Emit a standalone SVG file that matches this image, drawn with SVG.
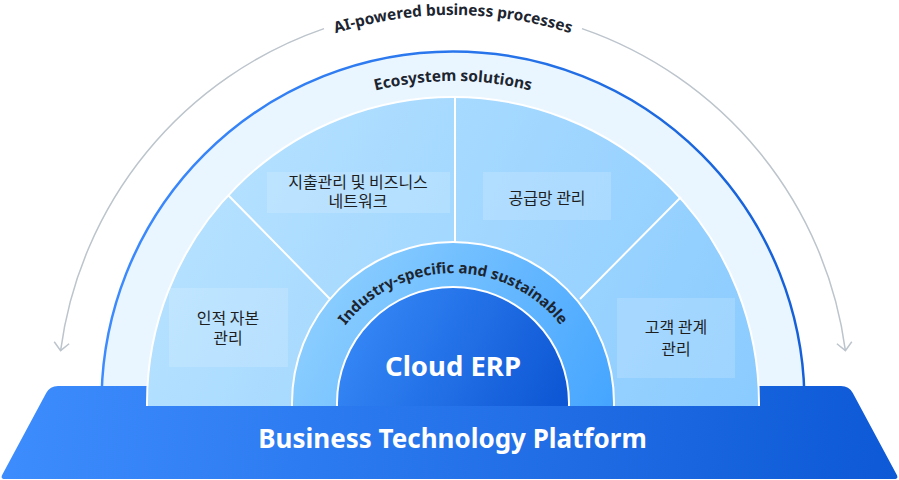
<svg xmlns="http://www.w3.org/2000/svg" width="899" height="480" viewBox="0 0 899 480">
<defs>
<style>
.lbl{font-family:"Noto Sans CJK KR","Noto Sans",sans-serif;font-size:16px;fill:#1e1e1e;text-anchor:middle}
.arc{font-family:"Noto Sans","Open Sans",sans-serif;font-weight:700;fill:#1c2530}
.box{fill:#ffffff;fill-opacity:0.16}
.div{stroke:#ffffff;stroke-width:2;fill:none}
.gray{fill:none;stroke:#bcc4cc;stroke-width:1.5}
</style>
<marker id="chev" markerUnits="userSpaceOnUse" markerWidth="20" markerHeight="20" refX="10" refY="10" orient="auto" viewBox="0 0 20 20">
<path d="M2,2.5 L10,10 L2,17.5" fill="none" stroke="#bcc4cc" stroke-width="1.5"/>
</marker>
<linearGradient id="gBlueStroke" gradientUnits="userSpaceOnUse" x1="100" y1="0" x2="806" y2="0">
<stop offset="0" stop-color="#3d8bff"/><stop offset="1" stop-color="#1560d8"/>
</linearGradient>
<linearGradient id="gPlat" gradientUnits="userSpaceOnUse" x1="0" y1="390" x2="899" y2="480">
<stop offset="0" stop-color="#3e8dfe"/><stop offset="1" stop-color="#0d59d6"/>
</linearGradient>
<linearGradient id="gSeg" gradientUnits="userSpaceOnUse" x1="150" y1="100" x2="760" y2="406">
<stop offset="0" stop-color="#bbe4ff"/><stop offset="1" stop-color="#8acbff"/>
</linearGradient>
<linearGradient id="gInd" gradientUnits="userSpaceOnUse" x1="300" y1="245" x2="612" y2="406">
<stop offset="0" stop-color="#94d3ff"/><stop offset="1" stop-color="#45a5ff"/>
</linearGradient>
<linearGradient id="gErp" gradientUnits="userSpaceOnUse" x1="340" y1="290" x2="568" y2="406">
<stop offset="0" stop-color="#3a8cfa"/><stop offset="1" stop-color="#0c55d3"/>
</linearGradient>
<clipPath id="cTop"><rect x="0" y="0" width="899" height="406"/></clipPath>
<clipPath id="cEco"><rect x="0" y="0" width="899" height="395"/></clipPath>
<path id="pAI" d="M65,403 A388,388 0 0 1 841,403"/>
<path id="pEco" d="M131,403 A322,322 0 0 1 775,403"/>
<path id="pInd" d="M316,410 A137,137 0 0 1 590,410"/>
</defs>

<g id="connectors">
<path class="gray" d="M324,28.6 A396,396 0 0 0 60.6,350.7" marker-end="url(#chev)"/>
<path class="gray" d="M582,28.6 A396,396 0 0 1 845.4,350.7" marker-end="url(#chev)"/>
</g>

<g id="ai-label">
<text class="arc" font-size="15.4"><textPath href="#pAI" startOffset="50%" text-anchor="middle">AI-powered business processes</textPath></text>
</g>

<g id="ecosystem">
<circle cx="453" cy="403" r="351.5" fill="#eaf6ff" stroke="url(#gBlueStroke)" stroke-width="2.5" clip-path="url(#cEco)"/>
<text class="arc" font-size="15.5"><textPath href="#pEco" startOffset="50%" text-anchor="middle">Ecosystem solutions</textPath></text>
</g>

<g id="platform">
<path d="M58,386 L841,386 Q849,386 852.8,393 L896.6,474.6 Q899,479 894,479 L5,479 Q0,479 2.4,474.6 L46.2,393 Q50,386 58,386 Z" fill="url(#gPlat)"/>
<text x="452.5" y="448" font-family="'Noto Sans','Open Sans',sans-serif" font-weight="700" font-size="26" fill="#ffffff" text-anchor="middle">Business Technology Platform</text>
</g>

<g id="segments" clip-path="url(#cTop)">
<circle cx="453" cy="403" r="306" fill="url(#gSeg)" stroke="#ffffff" stroke-width="2"/>
<line class="div" x1="228" y1="195" x2="330" y2="299"/>
<line class="div" x1="681" y1="197" x2="580" y2="299"/>
<line class="div" x1="455" y1="97" x2="455" y2="244"/>
</g>

<g id="hcm">
<rect class="box" x="169" y="288" width="119" height="79"/>
<text class="lbl" x="228" y="324"><tspan x="228">인적 자본</tspan><tspan x="228" dy="20">관리</tspan></text>
</g>

<g id="spend">
<rect class="box" x="267" y="172" width="183" height="41"/>
<text class="lbl" x="358" y="188"><tspan x="358">지출관리 및 비즈니스</tspan><tspan x="358" dy="19">네트워크</tspan></text>
</g>

<g id="scm">
<rect class="box" x="483" y="172" width="128" height="48"/>
<text class="lbl" x="547" y="204">공급망 관리</text>
</g>

<g id="crm">
<rect class="box" x="617" y="298" width="118" height="80"/>
<text class="lbl" x="676" y="333"><tspan x="676">고객 관계</tspan><tspan x="676" dy="22">관리</tspan></text>
</g>

<g id="industry" clip-path="url(#cTop)">
<circle cx="453" cy="403" r="161" fill="url(#gInd)" stroke="#ffffff" stroke-width="2"/>
<text class="arc" font-size="15"><textPath href="#pInd" startOffset="50%" text-anchor="middle">Industry-specific and sustainable</textPath></text>
</g>

<g id="cloud-erp" clip-path="url(#cTop)">
<circle cx="453" cy="403" r="116" fill="url(#gErp)" stroke="#ffffff" stroke-width="2"/>
<text x="453" y="376" font-family="'Noto Sans','Open Sans',sans-serif" font-weight="700" font-size="27.5" fill="#ffffff" text-anchor="middle">Cloud ERP</text>
</g>
</svg>
